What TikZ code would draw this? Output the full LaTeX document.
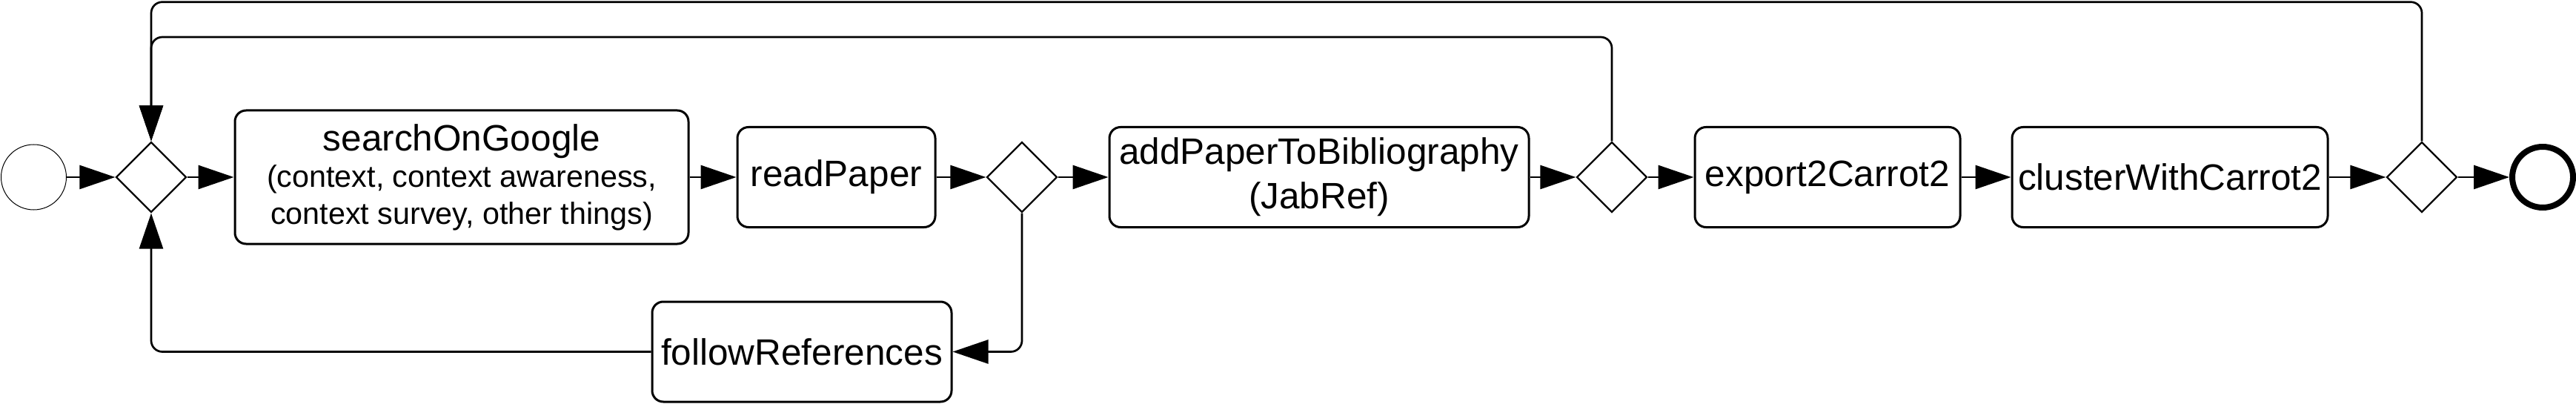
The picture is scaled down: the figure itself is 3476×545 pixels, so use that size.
\documentclass[tikz,border=0pt]{standalone}
\usepackage{fontspec}
\setmainfont{Liberation Sans}
\usetikzlibrary{shapes.geometric,arrows.meta}
\newcommand{\fsubtxt}{\fontsize{41.3}{49.6}\selectfont}
\newcommand{\ftitletxt}{\fontsize{49.5}{49.6}\selectfont}
\begin{document}
\begin{tikzpicture}[x=1pt,y=-1pt,
  task/.style={draw, line width=3pt, rounded corners=15pt, inner sep=0pt, align=center,
    font=\fontsize{49.5}{60}\selectfont},
  gate/.style={draw, diamond, line width=2.3pt, minimum width=95pt, minimum height=95pt, inner sep=0pt},
  flow/.style={line width=2.7pt, -{Triangle[length=48pt,width=32pt]}, rounded corners=15pt},
]
\useasboundingbox (0,0) rectangle (3476,545);

\node[draw, circle, line width=1pt, minimum size=88pt, inner sep=0pt] (start) at (45.5,239) {};
\node[gate] (gw1) at (204,239) {};
\node[task, minimum width=612pt, minimum height=180pt, font=\fsubtxt] (search) at (623,239)
  {{\ftitletxt searchOnGoogle}\\(context, context awareness,\\context survey, other things)};
\node[task, minimum width=267pt, minimum height=135pt] (read) at (1128.5,239) {readPaper};
\node[gate] (gw2) at (1379,239) {};
\node[task, minimum width=566pt, minimum height=135pt] (add) at (1780,239) {addPaperToBibliography\\(JabRef)};
\node[gate] (gw3) at (2175,239) {};
\node[task, minimum width=358pt, minimum height=135pt] (export) at (2466,239) {export2Carrot2};
\node[task, minimum width=426pt, minimum height=135pt] (cluster) at (2928,239) {clusterWithCarrot2};
\node[gate] (gw4) at (3268,239) {};
\node[draw, circle, line width=8pt, minimum size=82pt, inner sep=0pt] (end) at (3431,239) {};
\node[task, minimum width=404pt, minimum height=135pt] (follow) at (1082,474.5) {followReferences};

\coordinate (top1) at (0,2.7);
\coordinate (top2) at (0,50);

\draw[flow] (start) -- (gw1);
\draw[flow] (gw1) -- (search);
\draw[flow] (search) -- (read);
\draw[flow] (read) -- (gw2);
\draw[flow] (gw2) -- (add);
\draw[flow] (add) -- (gw3);
\draw[flow] (gw3) -- (export);
\draw[flow] (export) -- (cluster);
\draw[flow] (cluster) -- (gw4);
\draw[flow] (gw4) -- (end);
\draw[flow] (gw2.south) |- (follow.east);
\draw[flow] (follow.west) -| (gw1.south);
\draw[flow] (gw3.north) |- (gw1.north |- top2) -- (gw1.north);
\draw[flow] (gw4.north) |- (gw1.north |- top1) -- (gw1.north);
\end{tikzpicture}
\end{document}
